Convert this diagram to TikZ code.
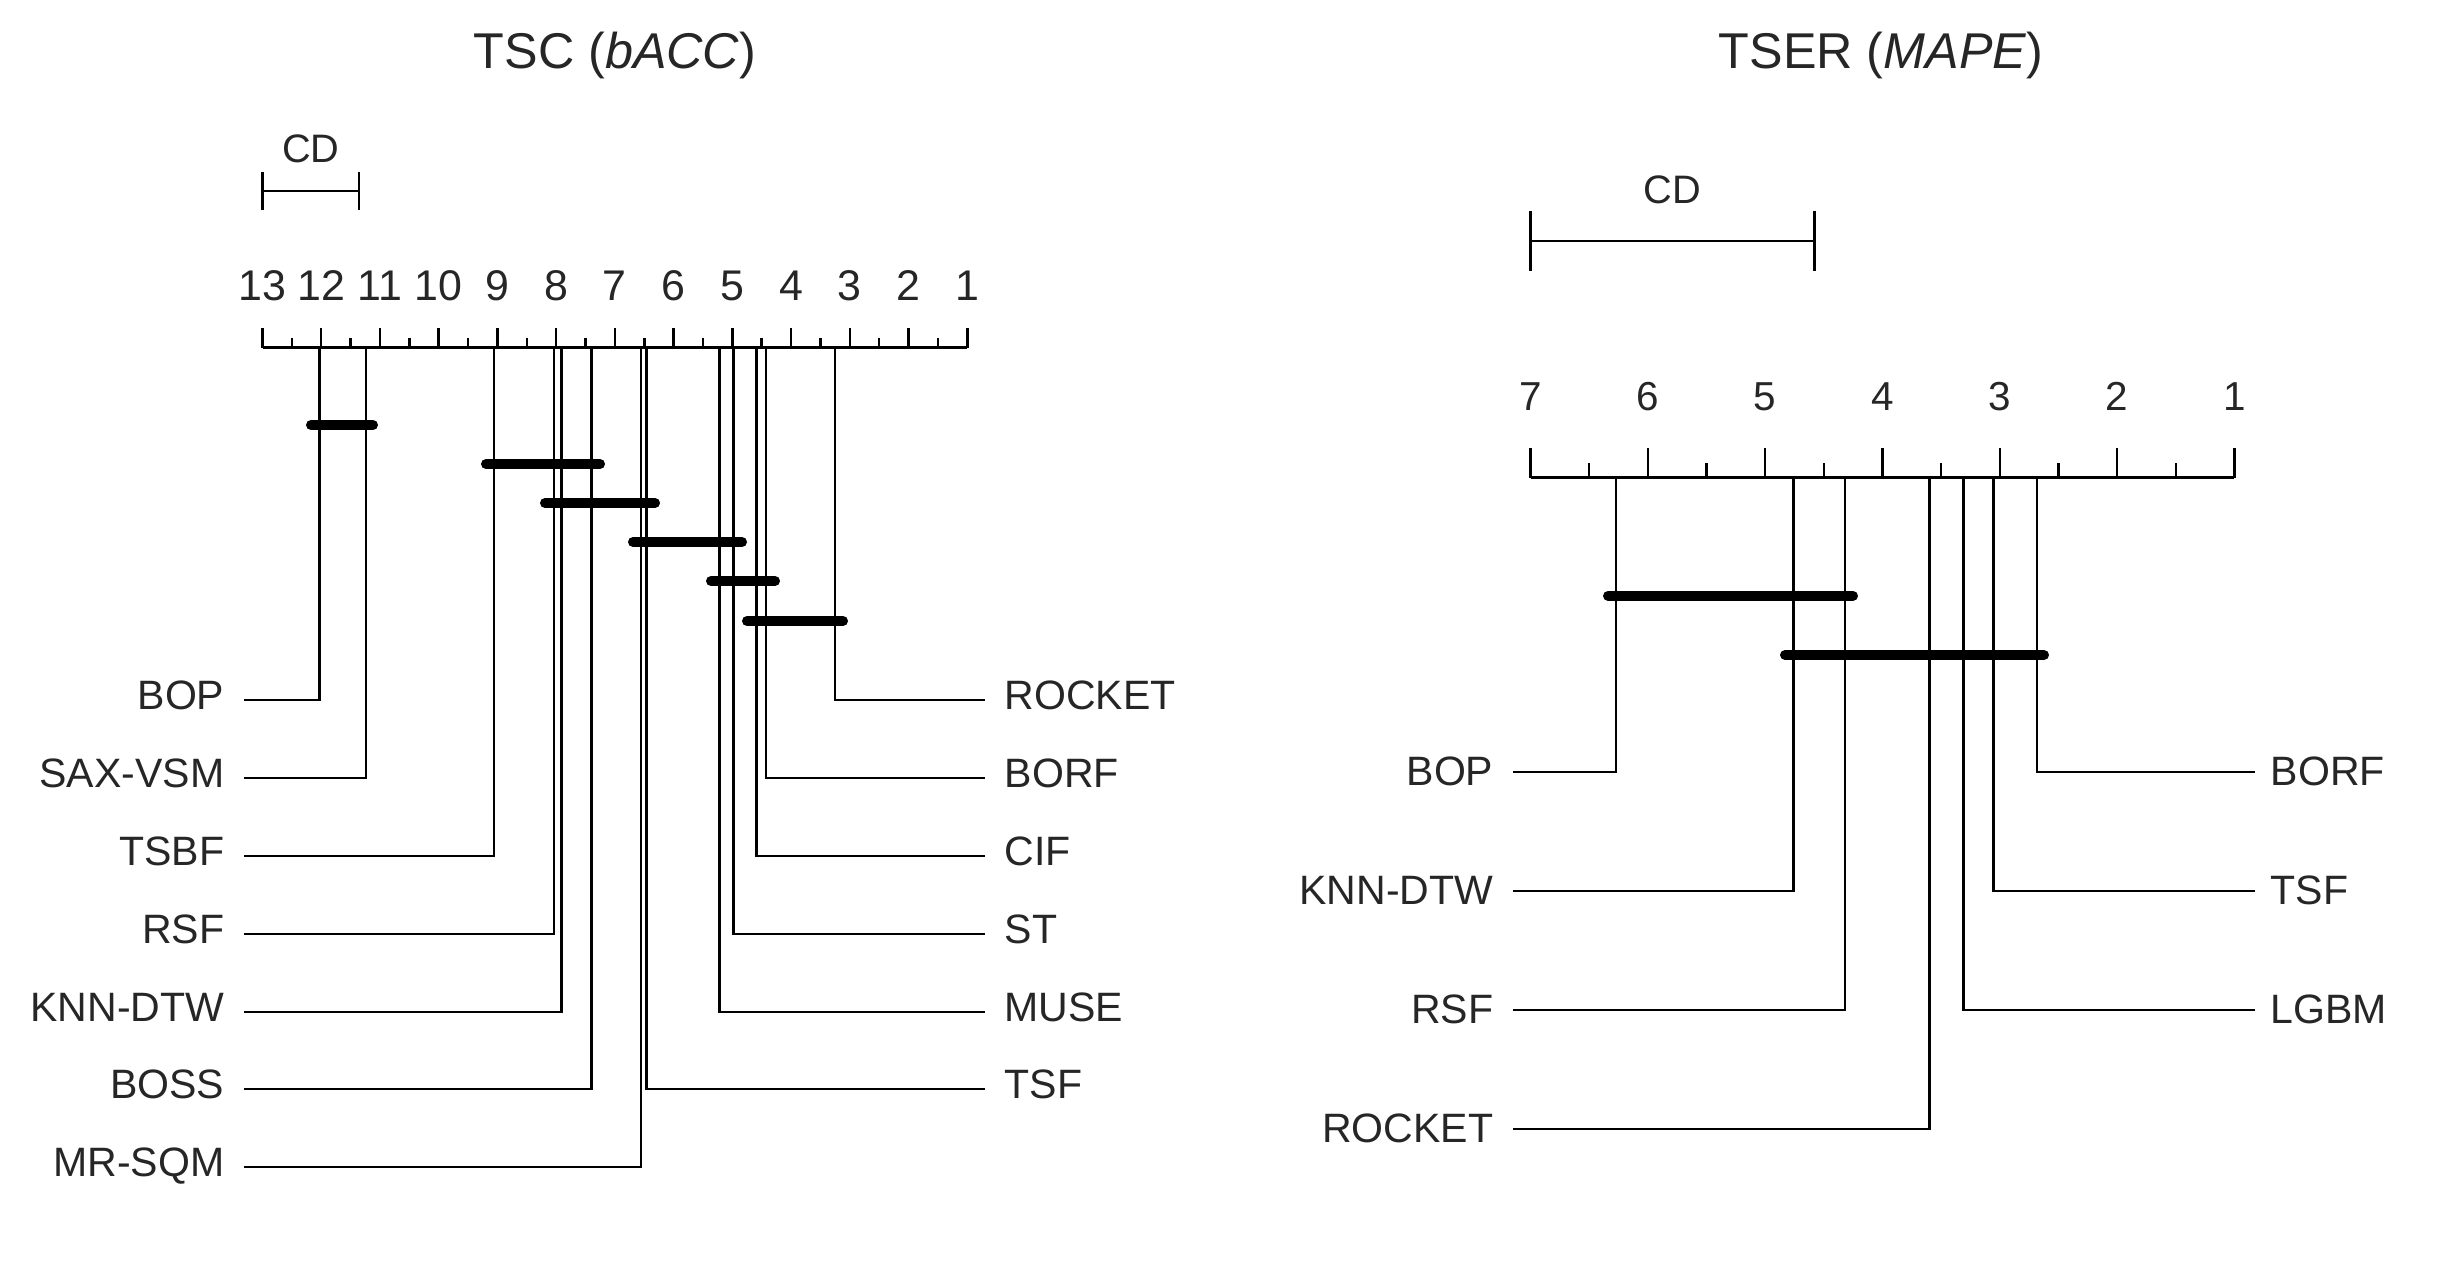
\documentclass[tikz,border=0pt]{standalone}
\usepackage{fontspec}
\setmainfont{Liberation Sans}
\begin{document}
\begin{tikzpicture}[x=0.01cm,y=-0.01cm,
  ln/.style={line width=0.71pt, black},
  clq/.style={line width=2.85pt, black, line cap=round},
  txt/.style={inner sep=0pt, text=black!85},
  lbl/.style={txt, font=\fontsize{11.67}{13}\selectfont},
  ttl/.style={txt, font=\fontsize{14.3}{16}\selectfont},
  digL/.style={txt, font=\fontsize{12.2}{14}\selectfont},
  digR/.style={txt, font=\fontsize{11.5}{13}\selectfont},
  cdt/.style={txt, font=\fontsize{11.3}{13}\selectfont}]
\useasboundingbox (0,0) rectangle (2440,1278);

% ================= Left panel: TSC =================
\node[ttl, anchor=base] (titleL) at (615,68.3) {TSC (\textit{bACC})};

% CD bar
\coordinate (cdLa) at (262.5,191);
\coordinate (cdLb) at (359,191);
\draw[ln] (cdLa) -- (cdLb);
\draw[ln] ([yshift=0.19cm]cdLa) -- ([yshift=-0.19cm]cdLa);
\draw[ln] ([yshift=0.19cm]cdLb) -- ([yshift=-0.19cm]cdLb);
\node[cdt, anchor=base] (cdLt) at (310.7,162) {CD};

% axis
\coordinate (axLa) at (262.5,347.5);
\coordinate (axLb) at (967.3,347.5);
\draw[ln] (axLa) -- (axLb);
\foreach \r in {1,...,13} {
  \draw[ln] ({262.5+(13-\r)*58.733},347.5) -- ++(0,-20);
  \node[digL, anchor=base] (tkL\r) at ({262.5+(13-\r)*58.733},300.7) {\r};
}
\foreach \r in {1.5,2.5,...,12.5} {
  \draw[ln] ({262.5+(13-\r)*58.733},347.5) -- ++(0,-10);
}

% methods, left side
\foreach \nm/\xx/\yy in {BOP/319.7/700, SAX-VSM/366.2/778, TSBF/494.2/856,
    RSF/553.8/934, KNN-DTW/561.6/1012, BOSS/591.6/1089, MR-SQM/641.0/1167} {
  \coordinate (Lt\nm) at (\xx,347.5);
  \coordinate (Le\nm) at (244,\yy);
  \draw[ln] (Lt\nm) |- (Le\nm);
  \node[lbl, anchor=base east] (Ln\nm) at (225,\yy+9.5) {\nm};
}
% methods, right side
\foreach \nm/\xx/\yy in {ROCKET/834.9/700, BORF/766.1/778, CIF/756.4/856,
    ST/733.6/934, MUSE/719.6/1012, TSF/646.4/1089} {
  \coordinate (Lt\nm) at (\xx,347.5);
  \coordinate (Le\nm) at (985,\yy);
  \draw[ln] (Lt\nm) |- (Le\nm);
  \node[lbl, anchor=base west] (Ln\nm) at (1004,\yy+9.5) {\nm};
}
% cliques
\foreach \i/\a/\b/\yy in {1/311/373/425, 2/486/600/464, 3/545/655/503,
    4/633/742/542, 5/711/775/581, 6/747/843/621} {
  \coordinate (Lqa\i) at (\a,\yy);
  \coordinate (Lqb\i) at (\b,\yy);
  \draw[clq] (Lqa\i) -- (Lqb\i);
}

% ================= Right panel: TSER =================
\node[ttl, anchor=base] (titleR) at (1881,68.3) {TSER (\textit{MAPE})};

\coordinate (cdRa) at (1530.5,241);
\coordinate (cdRb) at (1814.6,241);
\draw[ln] (cdRa) -- (cdRb);
\draw[ln] ([yshift=0.30cm]cdRa) -- ([yshift=-0.30cm]cdRa);
\draw[ln] ([yshift=0.30cm]cdRb) -- ([yshift=-0.30cm]cdRb);
\node[cdt, anchor=base] (cdRt) at (1672.5,203.3) {CD};

\coordinate (axRa) at (1530.5,477.7);
\coordinate (axRb) at (2234.4,477.7);
\draw[ln] (axRa) -- (axRb);
\foreach \r in {1,...,7} {
  \draw[ln] ({1530.5+(7-\r)*117.32},477.7) -- ++(0,-30);
  \node[digR, anchor=base] (tkR\r) at ({1530.5+(7-\r)*117.32},410.7) {\r};
}
\foreach \r in {1.5,2.5,...,6.5} {
  \draw[ln] ({1530.5+(7-\r)*117.32},477.7) -- ++(0,-15);
}

\foreach \nm/\xx/\yy in {BOP/1616/772, KNN-DTW/1793.7/891, RSF/1845.1/1010, ROCKET/1929.5/1129} {
  \coordinate (Rt\nm) at (\xx,477.7);
  \coordinate (Re\nm) at (1512.5,\yy);
  \draw[ln] (Rt\nm) |- (Re\nm);
  \node[lbl, anchor=base east] (Rn\nm) at (1494,\yy+13.5) {\nm};
}
\foreach \nm/\xx/\yy in {BORF/2037.1/772, TSF/1993.5/891, LGBM/1963.4/1010} {
  \coordinate (Rt\nm) at (\xx,477.7);
  \coordinate (Re\nm) at (2254.8,\yy);
  \draw[ln] (Rt\nm) |- (Re\nm);
  \node[lbl, anchor=base west] (Rn\nm) at (2270,\yy+13.5) {\nm};
}
\foreach \i/\a/\b/\yy in {1/1608/1853/595.8, 2/1785/2044/655} {
  \coordinate (Rqa\i) at (\a,\yy);
  \coordinate (Rqb\i) at (\b,\yy);
  \draw[clq] (Rqa\i) -- (Rqb\i);
}
\end{tikzpicture}
\end{document}
